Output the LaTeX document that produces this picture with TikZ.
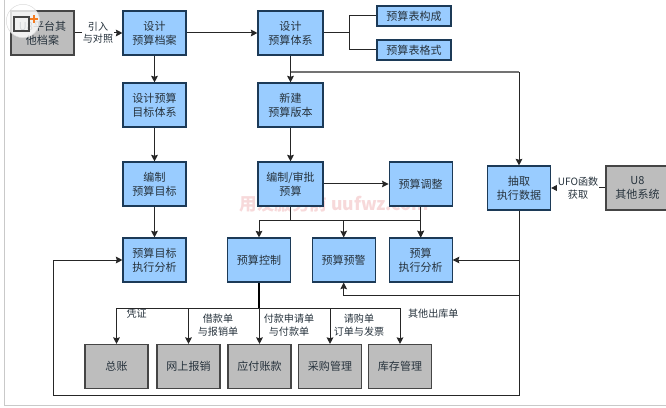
\documentclass[tikz,border=0pt]{standalone}
\usepackage{fontspec}
\setmainfont{Noto Sans CJK SC}
\usetikzlibrary{arrows.meta, calc}
\definecolor{boxblue}{HTML}{99CCFF}
\definecolor{boxgray}{HTML}{BDBDBD}
\definecolor{edgeblue}{HTML}{1C3A57}
\definecolor{edgegray}{HTML}{454545}
\definecolor{textdark}{HTML}{26323C}
\definecolor{framegray}{HTML}{C9C9C9}
\definecolor{stampred}{HTML}{F7D9DA}
\definecolor{plusorange}{HTML}{F47B20}
\tikzset{
	smalltext/.style={font=\fontsize{8.6pt}{10.6pt}\selectfont, text=textdark, align=center, inner sep=0.5pt},
	flowline/.style={line width=0.85pt, draw=black!85}
}
\begin{document}
\begin{tikzpicture}[>={Stealth[length=2mm,width=2mm,inset=0.3mm]},
  box/.style={draw=edgeblue, line width=0.9pt, fill=boxblue, align=center, minimum width=1.89cm, minimum height=1.32cm, inner sep=0pt, text=textdark, font=\fontsize{9.4pt}{11.8pt}\selectfont},
  graybox/.style={box, draw=edgegray, fill=boxgray}]
      \useasboundingbox (0,0) rectangle (19.98,12.21);
      % outer frame
      \coordinate (frametop) at (0.13,12.21);
      \coordinate (framecorner) at (0.13,0.05);
      \coordinate (frameend) at (19.98,0.05);
      \draw[framegray, line width=0.9pt] (frametop) -- (framecorner) -- (frameend);
      % stamp behind the boxes
      \node[font=\bfseries\fontsize{15pt}{15pt}\selectfont, text=stampred, inner sep=0pt] (stamp) at (10.03,6.09) {用友服务前 uufwz.com};

      \node[graybox] (pingtai) at (1.275,11.22) {U8平台其\\ 他档案};
      \node[box] (dangan) at (4.635,11.22) {设计\\ 预算档案};
      \node[box, minimum width=1.95cm] (tixi) at (8.715,11.22) {设计\\ 预算体系};
      \node[box, minimum width=2.22cm, minimum height=0.6cm] (goucheng) at (12.42,11.73) {预算表构成};
      \node[box, minimum width=2.22cm, minimum height=0.6cm] (geshi) at (12.42,10.71) {预算表格式};
      \node[box] (mubiao) at (4.635,9.06) {设计预算\\ 目标体系};
      \node[box, minimum width=1.95cm] (xinjian) at (8.715,9.06) {新建\\ 预算版本};
      \node[box] (bianmu) at (4.635,6.69) {编制\\ 预算目标};
      \node[box, minimum width=1.95cm] (shenpi) at (8.715,6.69) {编制/审批\\ 预算};
      \node[box] (tiaozheng) at (12.62,6.69) {预算调整};
      \node[box] (chouqu) at (15.57,6.57) {抽取\\ 执行数据};
      \node[graybox] (qita) at (19.125,6.57) {U8\\ 其他系统};
      \node[box] (mufenxi) at (4.635,4.41) {预算目标\\ 执行分析};
      \node[box] (kongzhi) at (7.77,4.41) {预算控制};
      \node[box] (yujing) at (10.31,4.41) {预算预警};
      \node[box] (zhixing) at (12.62,4.41) {预算\\ 执行分析};
      \node[graybox] (zongzhang) at (3.495,1.215) {总账};
      \node[graybox] (baoxiao) at (5.655,1.215) {网上报销};
      \node[graybox] (yingfu) at (7.785,1.215) {应付账款};
      \node[graybox] (caigou) at (9.9,1.215) {采购管理};
      \node[graybox] (kucun) at (12.0,1.215) {库存管理};

      % branch points
      \coordinate (treesplit) at (10.47,11.22);
      \coordinate (datasplit) at (8.715,10.05);
      \coordinate (dataturn) at (15.57,10.05);
      \coordinate (auditsplit) at (8.715,5.61);
      \coordinate (voucherbus) at (7.77,2.97);
      \coordinate (warnsplit) at (15.57,3.36);
      \coordinate (execsplit) at (15.57,4.41);
      \coordinate (backcorner) at (15.57,0.345);
      \coordinate (backturn) at (1.59,0.345);

      \draw[flowline, ->] (pingtai) -- (dangan);
      \draw[flowline, ->] (dangan) -- (tixi);
      \draw[flowline] (tixi) -- (treesplit);
      \draw[flowline] (treesplit) |- (goucheng);
      \draw[flowline] (treesplit) |- (geshi);
      \draw[flowline, ->] (dangan) -- (mubiao);
      \draw[flowline, ->] (mubiao) -- (bianmu);
      \draw[flowline, ->] (bianmu) -- (mufenxi);
      \draw[flowline, ->] (tixi) -- (xinjian);
      \draw[flowline, ->] (xinjian) -- (shenpi);
      % execution data
      \draw[line width=1.2pt, draw=black!55] (datasplit) -- (dataturn);
      \draw[flowline, ->] (dataturn) -- (chouqu);
      \draw[flowline, ->] (shenpi.east |- tiaozheng.west) -- (tiaozheng);
      \draw[flowline] (shenpi) -- (auditsplit);
      \draw[flowline, ->] (auditsplit) -| (kongzhi);
      \draw[flowline, ->] (auditsplit) -| (yujing);
      \draw[flowline, ->] (auditsplit) -| (zhixing);
      \draw[flowline, ->] (tiaozheng) -- (zhixing);
      \draw[flowline, ->] (qita) -- (chouqu);
      % feedback from extracted data
      \draw[flowline, ->] (chouqu) -- (backcorner) -- (backturn) |- (mufenxi);
      \draw[flowline, ->] (execsplit) -- (zhixing);
      \draw[flowline, ->] (warnsplit) -| (yujing);
      % documents to the other modules
      \draw[line width=1.4pt, draw=black] (kongzhi) -- (voucherbus);
      \draw[flowline, ->] (voucherbus) -| (zongzhang);
      \draw[flowline, ->] (voucherbus) -| (baoxiao);
      \draw[flowline, ->] (voucherbus) -| (yingfu);
      \draw[flowline, ->] (voucherbus) -| (caigou);
      \draw[flowline, ->] (voucherbus) -| (kucun);

      \node[smalltext, fill=white] (yinru) at (2.94,11.22) {引入\\ 与对照};
      \node[smalltext, fill=white] (hanshu) at (17.34,6.57) {UFO函数\\ 获取};
      \node[smalltext] (pingzheng) at (4.1,2.8) {凭证};
      \node[smalltext] (jiekuan) at (6.54,2.45) {借款单\\ 与报销单};
      \node[smalltext] (fukuan) at (8.67,2.45) {付款申请单\\ 与付款单};
      \node[smalltext] (qinggou) at (10.77,2.45) {请购单\\ 订单与发票};
      \node[smalltext] (chuku) at (13.0,2.8) {其他出库单};

      % badge over the corner
      \node[circle, fill=white, fill opacity=0.8, draw=black!15, minimum size=1.0cm, inner sep=0pt] (badge) at (0.69,11.58) {};
      \draw[edgegray, line width=1.6pt] (0.42,11.28) rectangle (0.87,11.7);
      \draw[plusorange, line width=1.5pt] (0.9,11.64) -- (1.14,11.64) (1.02,11.52) -- (1.02,11.76);
    \end{tikzpicture}
\end{document}
